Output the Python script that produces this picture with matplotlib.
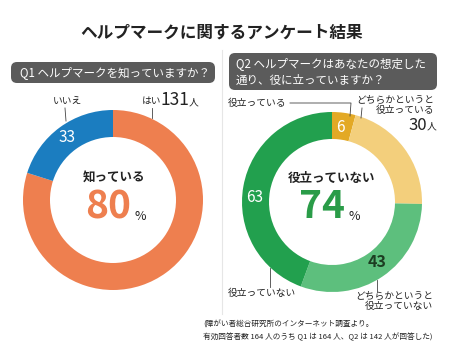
import matplotlib.pyplot as plt
from matplotlib.patches import FancyBboxPatch

plt.rcParams['font.family'] = ['Noto Sans CJK JP', 'DejaVu Sans']

# data
q1_labels = ['はい', 'いいえ']
q1_values = [131, 33]
q1_colors = ['#ee7f4f', '#1b7dc0']

q2_labels = ['役立っている', 'どちらかというと役立っている',
             'どちらかというと役立っていない', '役立っていない']
q2_values = [6, 30, 43, 63]
q2_colors = ['#e3a925', '#f3cf7c', '#5dbf7d', '#22a04e']

W, H = 450, 354
fig = plt.figure(figsize=(W / 100, H / 100), dpi=100)
fig.patch.set_facecolor('white')


def donut_axes(cx, cy, r):
    return fig.add_axes([(cx - r) / W, 1 - (cy + r) / H, 2 * r / W, 2 * r / H])


ax1 = donut_axes(113, 200, 90)
ax1.pie(q1_values, colors=q1_colors, startangle=90, counterclock=False,
        radius=1, wedgeprops=dict(width=0.3, edgecolor='none'))
ax1.set_xlim(-1, 1)
ax1.set_ylim(-1, 1)
ax1.set_aspect('equal')
ax1.axis('off')

ax2 = donut_axes(332, 202, 90)
ax2.pie(q2_values, colors=q2_colors, startangle=90, counterclock=False,
        radius=1, wedgeprops=dict(width=0.3, edgecolor='none'))
ax2.set_xlim(-1, 1)
ax2.set_ylim(-1, 1)
ax2.set_aspect('equal')
ax2.axis('off')

# overlay in pixel coords for text & decorations
ov = fig.add_axes([0, 0, 1, 1], zorder=5)
ov.set_xlim(0, W)
ov.set_ylim(H, 0)
ov.axis('off')
ov.patch.set_alpha(0)

ov.text(222, 33, 'ヘルプマークに関するアンケート結果', ha='center', va='center',
        fontsize=12, fontweight='bold', color='#222222')

# separator
ov.plot([222, 222], [50, 314], color='#e6e6e6', lw=0.8)

# question boxes
for x0, y0, x1, y1 in [(11, 62, 215, 83), (229, 53, 437, 90)]:
    ov.add_patch(FancyBboxPatch((x0, y0), x1 - x0, y1 - y0,
                                boxstyle='round,pad=0,rounding_size=6',
                                fc='#5b5b5b', ec='none'))
ov.text(20, 72.5, 'Q1 ヘルプマークを知っていますか？', ha='left', va='center',
        fontsize=8.3, color='white')
ov.text(236, 64, 'Q2 ヘルプマークはあなたの想定した', ha='left', va='center',
        fontsize=8.3, color='white')
ov.text(236, 80, '通り、役に立っていますか？', ha='left', va='center',
        fontsize=8.3, color='white')

lc = '#444444'
# Q1 labels
total1 = sum(q1_values)
ov.text(67, 101, q1_labels[1], ha='center', va='center', fontsize=7, color='#222222')
ov.plot([65, 66], [108, 121], color=lc, lw=0.6)
ov.text(142, 101, q1_labels[0], ha='left', va='center', fontsize=7, color='#222222')
ov.text(161, 100, str(q1_values[0]), ha='left', va='center', fontsize=12.5, color='#222222')
ov.text(189, 102, '人', ha='left', va='center', fontsize=7, color='#222222')
ov.plot([152, 152], [108, 118], color=lc, lw=0.6)
ov.text(67, 138, str(q1_values[1]), ha='center', va='center', fontsize=11, color='white')
ov.text(114, 177, '知っている', ha='center', va='center', fontsize=9,
        fontweight='bold', color='#222222')
ov.text(108, 207, f'{round(q1_values[0] / total1 * 100)}', ha='center', va='center',
        fontsize=28, fontweight='bold', color=q1_colors[0])
ov.text(140, 216, '%', ha='center', va='center', fontsize=9, color='#222222')

# Q2 labels
total2 = sum(q2_values)
ov.text(228, 103, q2_labels[0], ha='left', va='center', fontsize=7, color='#222222')
ov.plot([290, 351, 350], [103, 103, 116], color=lc, lw=0.6)
ov.text(434, 105, 'どちらかというと\n役立っている', ha='right', va='center',
        fontsize=7, color='#222222', linespacing=1.0)
ov.text(427, 125, str(q2_values[1]), ha='right', va='center', fontsize=12, color='#222222')
ov.text(427, 126, '人', ha='left', va='center', fontsize=7, color='#222222')
ov.plot([362, 361], [108, 118], color=lc, lw=0.6)

ov.text(340, 127, str(q2_values[0]), ha='center', va='center', fontsize=11, color='white')
ov.text(255, 198, str(q2_values[3]), ha='center', va='center', fontsize=11, color='white')
ov.text(377, 262, str(q2_values[2]), ha='center', va='center', fontsize=11.5,
        fontweight='bold', color='#1d3d22')

ov.text(228, 293, q2_labels[3], ha='left', va='center', fontsize=7, color='#222222')
ov.plot([270, 270], [268, 287], color=lc, lw=0.6)
ov.text(433, 301, 'どちらかというと\n役立っていない', ha='right', va='center',
        fontsize=7, color='#222222', linespacing=1.0)
ov.plot([377, 377], [280, 292], color=lc, lw=0.6)

ov.text(332, 178, '役立っていない', ha='center', va='center', fontsize=9,
        fontweight='bold', color='#222222')
pct2 = int((q2_values[2] + q2_values[3]) / total2 * 100)
ov.text(322, 207, f'{pct2}', ha='center', va='center', fontsize=28,
        fontweight='bold', color='#2a9c48')
ov.text(354, 217, '%', ha='center', va='center', fontsize=9, color='#222222')

# footnote
ov.text(203, 325, '(障がい者総合研究所のインターネット調査より。', ha='left', va='center',
        fontsize=5.5, color='#222222')
ov.text(203, 337, '有効回答者数 164 人のうち Q1 は 164 人、Q2 は 142 人が回答した)',
        ha='left', va='center', fontsize=5.5, color='#222222')

fig.savefig('out.png', dpi=100)
